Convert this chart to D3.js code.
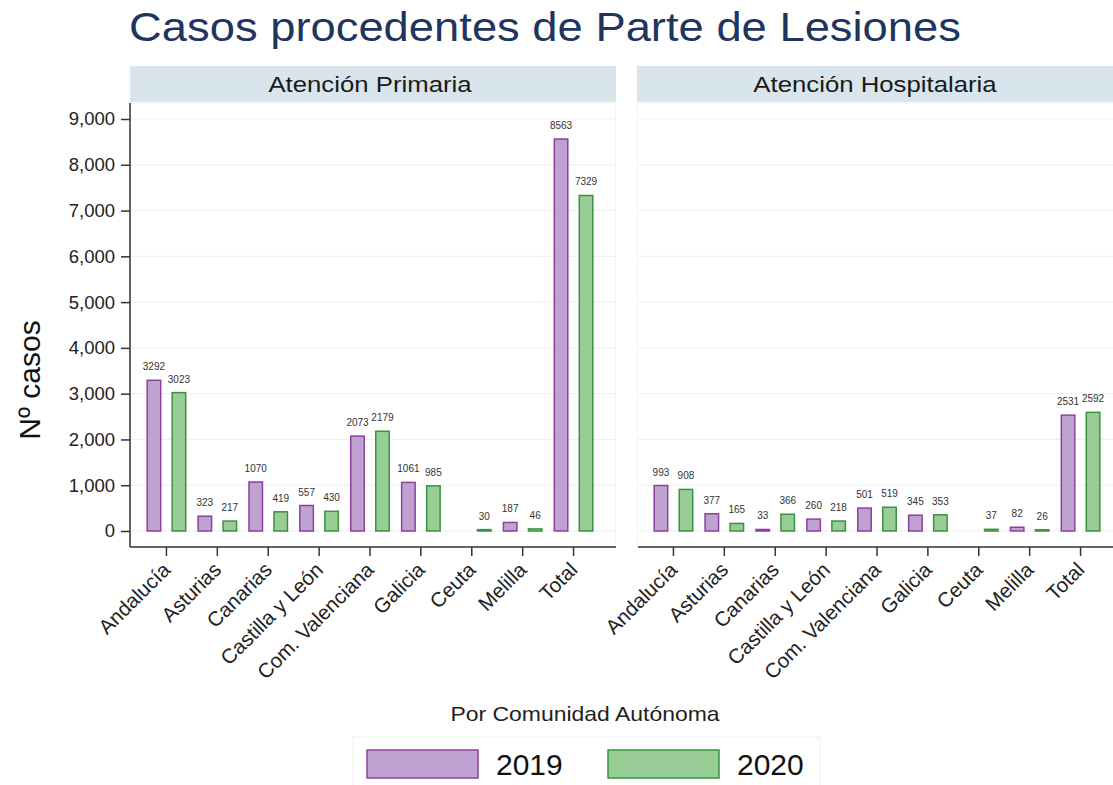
<!DOCTYPE html>
<html>
<head>
<meta charset="utf-8">
<script src="https://cdn.jsdelivr.net/npm/d3@7"></script>
<style>
  body { margin: 0; background: #fff; }
  text { font-family: "Liberation Sans", Arial, sans-serif; }
</style>
</head>
<body>
<div id="chart"></div>
<script>
// data
const categories = ["Andalucía", "Asturias", "Canarias", "Castilla y León", "Com. Valenciana", "Galicia", "Ceuta", "Melilla", "Total"]
const years = ["2019", "2020"]
const panels = ["Atención Primaria", "Atención Hospitalaria"]
const primaria2019 = [3292, 323, 1070, 557, 2073, 1061, null, 187, 8563]
const primaria2020 = [3023, 217, 419, 430, 2179, 985, 30, 46, 7329]
const hospital2019 = [993, 377, 33, 260, 501, 345, null, 82, 2531]
const hospital2020 = [908, 165, 366, 218, 519, 353, 37, 26, 2592]
const yTicks = [0, 1000, 2000, 3000, 4000, 5000, 6000, 7000, 8000, 9000]

const panelData = [[primaria2019, primaria2020], [hospital2019, hospital2020]]

const width = 1113, height = 785
const fill = { "2019": "#c0a2d2", "2020": "#98cd95" }
const stroke = { "2019": "#8e3f9f", "2020": "#3a923f" }
const sx = 1.12 // the original text is a bit wider than tall

const svg = d3.select("#chart").append("svg")
    .attr("width", width)
    .attr("height", height)

// title
svg.append("text")
    .attr("transform", "translate(545,41) scale(" + sx + ",1)")
    .attr("text-anchor", "middle")
    .style("font-size", "40.5px")
    .style("fill", "#1f3560")
    .text("Casos procedentes de Parte de Lesiones")

const y = d3.scaleLinear().domain([0, 9000]).range([531, 119])

const panelLeft = [130, 637]
const panelW = 486
const plotTop = 103, plotBottom = 547

panels.forEach(function (name, p) {
    const left = panelLeft[p]
    const g = svg.append("g").attr("transform", "translate(" + left + ",0)")

    // strip
    g.append("rect")
        .attr("x", 0).attr("y", 66)
        .attr("width", panelW).attr("height", 36)
        .style("fill", "#d8e5ec")
    g.append("text")
        .attr("transform", "translate(" + (p === 0 ? 240 : 238) + ",92) scale(" + sx + ",1)")
        .attr("text-anchor", "middle")
        .style("font-size", "23px")
        .style("fill", "#1a1a1a")
        .text(name)

    // faint plot border + gridlines
    g.append("rect")
        .attr("x", 0.5).attr("y", plotTop)
        .attr("width", panelW - 1).attr("height", plotBottom - plotTop)
        .style("fill", "none")
        .style("stroke", "#f2f2f2")
    g.selectAll("line.grid")
        .data(yTicks)
        .enter().append("line")
        .attr("class", "grid")
        .attr("x1", 1).attr("x2", panelW - 1)
        .attr("y1", d => y(d)).attr("y2", d => y(d))
        .style("stroke", "#eeeeee")

    const x = d3.scaleBand().domain(categories).range([11, 469]).paddingInner(0).paddingOuter(0)
    const xSub = d3.scaleBand().domain(years).range([0, x.bandwidth()]).paddingInner(0.4).paddingOuter(0.218)

    const rows = []
    categories.forEach(function (c, i) {
        years.forEach(function (yr, j) {
            rows.push({ cat: c, year: yr, value: panelData[p][j][i] })
        })
    })
    const valid = rows.filter(d => d.value != null)

    g.selectAll("rect.bar")
        .data(valid)
        .enter().append("rect")
        .attr("class", "bar")
        .attr("x", d => x(d.cat) + xSub(d.year) + 0.75)
        .attr("width", xSub.bandwidth() - 1.5)
        .attr("y", d => y(d.value))
        .attr("height", d => Math.max(0.8, y(0) - y(d.value)))
        .style("fill", d => fill[d.year])
        .style("stroke", d => stroke[d.year])
        .style("stroke-width", 1.5)

    g.selectAll("text.val")
        .data(valid)
        .enter().append("text")
        .attr("class", "val")
        .attr("x", d => x(d.cat) + xSub(d.year) + xSub.bandwidth() / 2)
        .attr("y", d => y(d.value) - 10)
        .attr("text-anchor", "middle")
        .style("font-size", "10px")
        .style("fill", "#333")
        .text(d => d.value)

    // x axis
    const xAxis = g.append("g").attr("transform", "translate(0," + plotBottom + ")")
        .call(d3.axisBottom(x).tickSize(9).tickSizeOuter(0))
    xAxis.select(".domain").style("stroke", "#333").style("stroke-width", 1.5)
        .attr("d", p === 0 ? "M0,0H" + panelW : "M1,0H" + (width - left))
    xAxis.selectAll(".tick line").style("stroke", "#333").style("stroke-width", 1.5)
    xAxis.selectAll(".tick text")
        .style("font-size", "20.5px")
        .style("fill", "#222")
        .attr("text-anchor", "end")
        .attr("x", 0).attr("y", 0).attr("dy", "0.35em")
        .attr("transform", "translate(0,19) rotate(-45)")

    // y axis only on first panel
    if (p === 0) {
        const yAxis = g.append("g")
            .call(d3.axisLeft(y).tickValues(yTicks).tickFormat(d3.format(",")).tickSize(9).tickPadding(6))
        yAxis.select(".domain").attr("d", "M0," + plotTop + "V" + plotBottom)
            .style("stroke", "#333").style("stroke-width", 1.5)
        yAxis.selectAll(".tick line").style("stroke", "#333").style("stroke-width", 1.5)
        yAxis.selectAll(".tick text").style("font-size", "18.5px").style("fill", "#222")
    }
})

// y title
svg.append("text")
    .attr("transform", "translate(40,380) rotate(-90)")
    .attr("text-anchor", "middle")
    .style("font-size", "30px")
    .style("fill", "#111")
    .text("Nº casos")

// legend
svg.append("text")
    .attr("transform", "translate(585,721) scale(" + sx + ",1)")
    .attr("text-anchor", "middle")
    .style("font-size", "20.5px")
    .style("fill", "#222")
    .text("Por Comunidad Autónoma")

svg.append("rect")
    .attr("x", 353).attr("y", 737)
    .attr("width", 467).attr("height", 60)
    .style("fill", "none")
    .style("stroke", "#f0f0f0")

const legendX = d3.scaleOrdinal().domain(years).range([367, 608])
const leg = svg.selectAll("g.leg")
    .data(years)
    .enter().append("g")
    .attr("class", "leg")
    .attr("transform", d => "translate(" + legendX(d) + ",750)")
leg.append("rect")
    .attr("width", 111).attr("height", 28)
    .style("fill", d => fill[d])
    .style("stroke", d => stroke[d])
    .style("stroke-width", 1.5)
leg.append("text")
    .attr("x", 129).attr("y", 25)
    .style("font-size", "30px")
    .style("fill", "#111")
    .text(d => d)
</script>
</body>
</html>
